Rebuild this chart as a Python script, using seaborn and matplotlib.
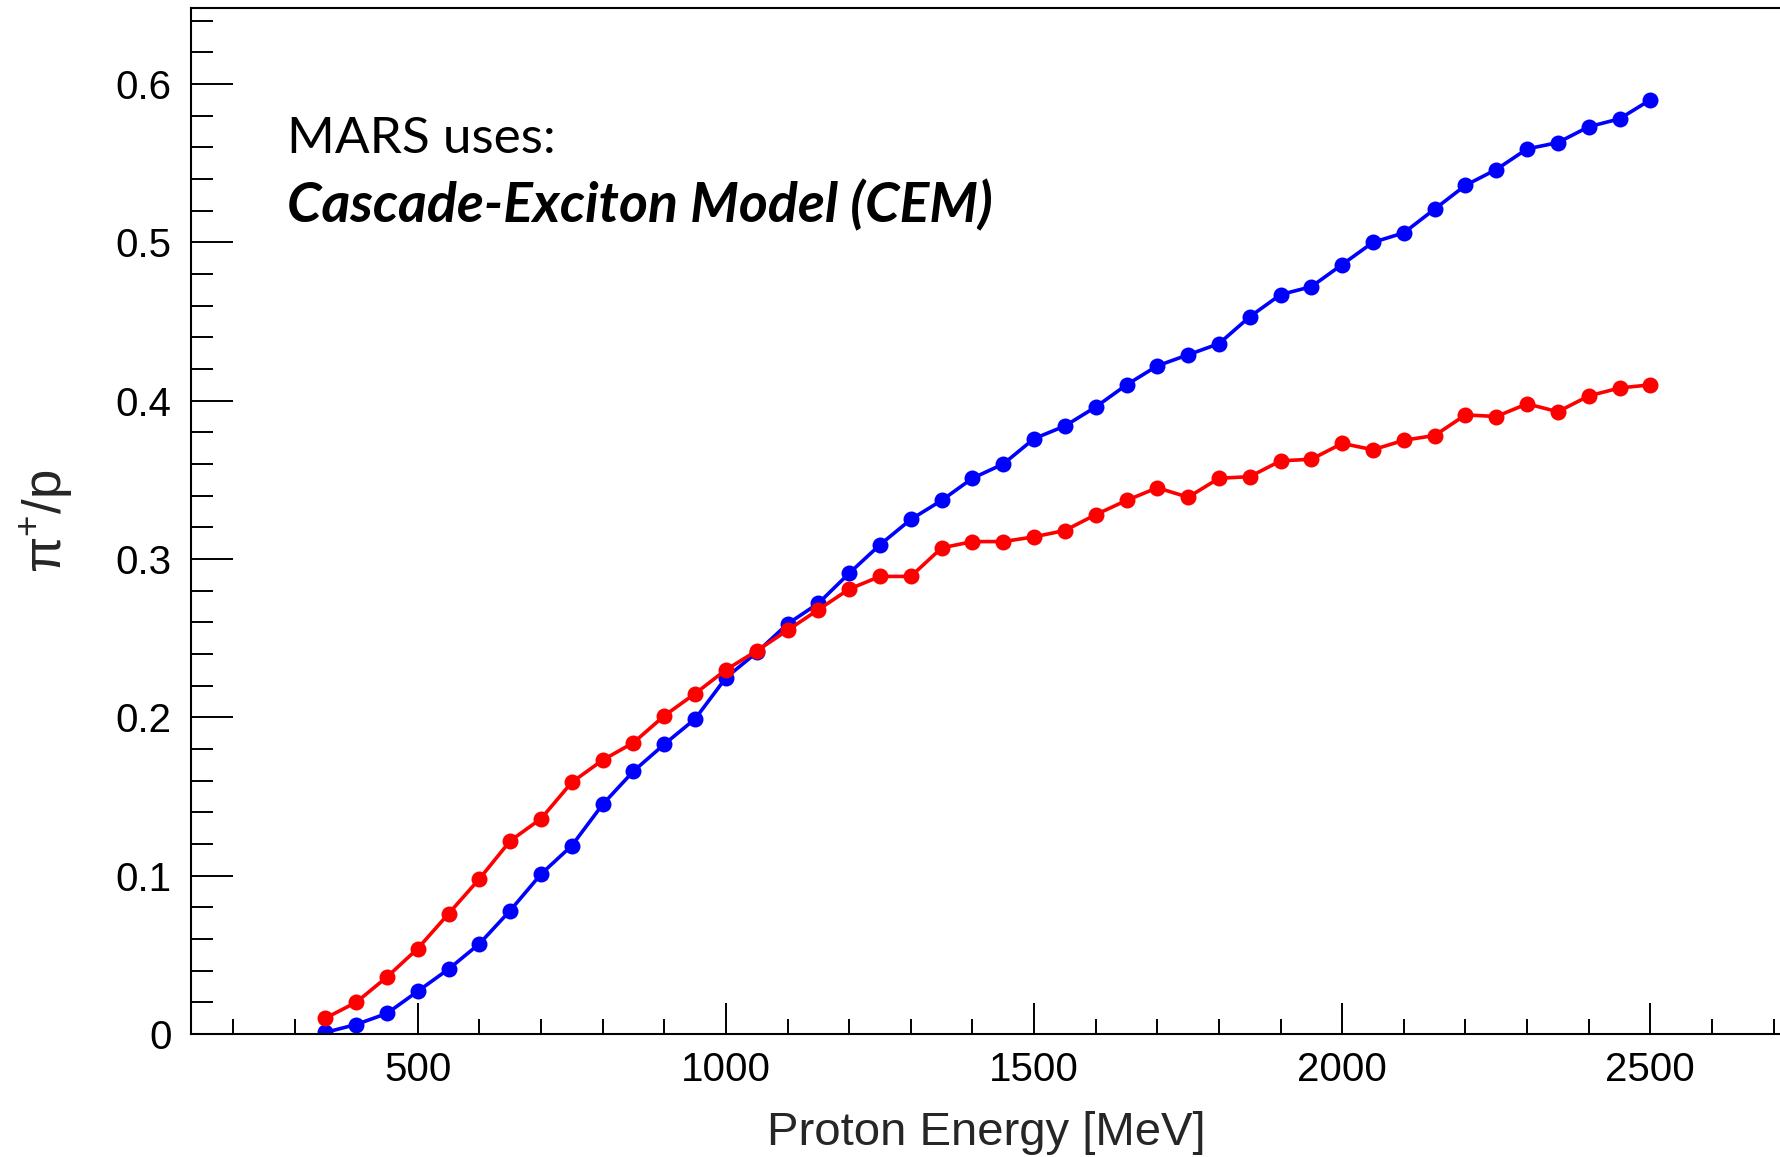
import numpy as np
import pandas as pd
import matplotlib
matplotlib.use("Agg")
import matplotlib.pyplot as plt
import seaborn as sns
from matplotlib.ticker import MultipleLocator

# =========================
# DATA
# =========================
energy = list(range(350, 2501, 50))

blue_vals = [0.001, 0.006, 0.013, 0.027, 0.041, 0.057, 0.078, 0.101, 0.119, 0.145,
             0.166, 0.183, 0.199, 0.225, 0.241, 0.259, 0.272, 0.291, 0.309, 0.325,
             0.337, 0.351, 0.360, 0.376, 0.384, 0.396, 0.410, 0.422, 0.429, 0.436,
             0.453, 0.467, 0.472, 0.486, 0.500, 0.506, 0.521, 0.536, 0.546, 0.559,
             0.563, 0.573, 0.578, 0.590]

red_vals = [0.010, 0.020, 0.036, 0.054, 0.076, 0.098, 0.122, 0.136, 0.159, 0.173,
            0.184, 0.201, 0.215, 0.230, 0.242, 0.255, 0.268, 0.281, 0.289, 0.289,
            0.307, 0.311, 0.311, 0.314, 0.318, 0.328, 0.337, 0.345, 0.339, 0.351,
            0.352, 0.362, 0.363, 0.373, 0.369, 0.375, 0.378, 0.391, 0.390, 0.398,
            0.393, 0.403, 0.408, 0.410]

series_names = ["blue", "red"]
series_colors = ["#0000ff", "#ff0000"]

df = pd.DataFrame({
    "energy": energy * 2,
    "ratio": blue_vals + red_vals,
    "series": [series_names[0]] * len(energy) + [series_names[1]] * len(energy),
})

# =========================
# STYLE
# =========================
sns.set_style("white")
plt.rcParams["font.family"] = ["Liberation Sans", "DejaVu Sans"]
plt.rcParams["mathtext.fontset"] = "custom"
plt.rcParams["mathtext.rm"] = "Liberation Sans"

W, H = 1781, 1157
fig = plt.figure(figsize=(W / 100, H / 100), dpi=100)
ax_left, ax_right, ax_top, ax_bottom = 191, 1781, 8, 1034
ax = fig.add_axes([ax_left / W, (H - ax_bottom) / H,
                   (ax_right - ax_left) / W, (ax_bottom - ax_top) / H])

# =========================
# PLOT
# =========================
sns.lineplot(data=df, x="energy", y="ratio", hue="series",
             palette=dict(zip(series_names, series_colors)),
             marker="o", markersize=11.5, markeredgewidth=0,
             linewidth=2.6, legend=False, ax=ax)

ax.set_xlim(132, 2712)
ax.set_ylim(0, 0.648)

ax.xaxis.set_major_locator(MultipleLocator(500))
ax.xaxis.set_minor_locator(MultipleLocator(100))
ax.yaxis.set_major_locator(MultipleLocator(0.1))
ax.yaxis.set_minor_locator(MultipleLocator(0.02))
ax.yaxis.set_major_formatter(plt.FuncFormatter(lambda v, p: "0" if abs(v) < 1e-9 else f"{v:g}"))

# ticks inward, bottom and left only
ax.tick_params(which="both", bottom=True, left=True, top=False, right=False,
               direction="in", color="black", width=1.4)
ax.tick_params(axis="x", which="major", length=22, labelsize=29, pad=12, labelcolor="black")
ax.tick_params(axis="x", which="minor", length=11)
ax.tick_params(axis="y", which="major", length=30, labelsize=29, pad=14, labelcolor="black")
ax.tick_params(axis="y", which="minor", length=16)

for side in ["left", "bottom", "top"]:
    ax.spines[side].set_linewidth(1.5)
    ax.spines[side].set_color("black")
ax.spines["right"].set_visible(False)

ax.set_xlabel("Proton Energy [MeV]", fontsize=34, labelpad=16)
ax.set_ylabel(r"π$^{+}$/p", fontsize=38, labelpad=30)

# Annotation
fig.text(287 / W, 1 - 153 / H, "MARS uses:", family=["Lato", "DejaVu Sans"],
         fontsize=37, va="baseline", ha="left", color="black")
fig.text(287 / W, 1 - 222 / H, "Cascade-Exciton Model (CEM)", family=["Lato", "DejaVu Sans"],
         fontsize=40, fontweight="bold", fontstyle="italic", va="baseline", ha="left",
         color="black")

fig.savefig("out.png", dpi=100)
